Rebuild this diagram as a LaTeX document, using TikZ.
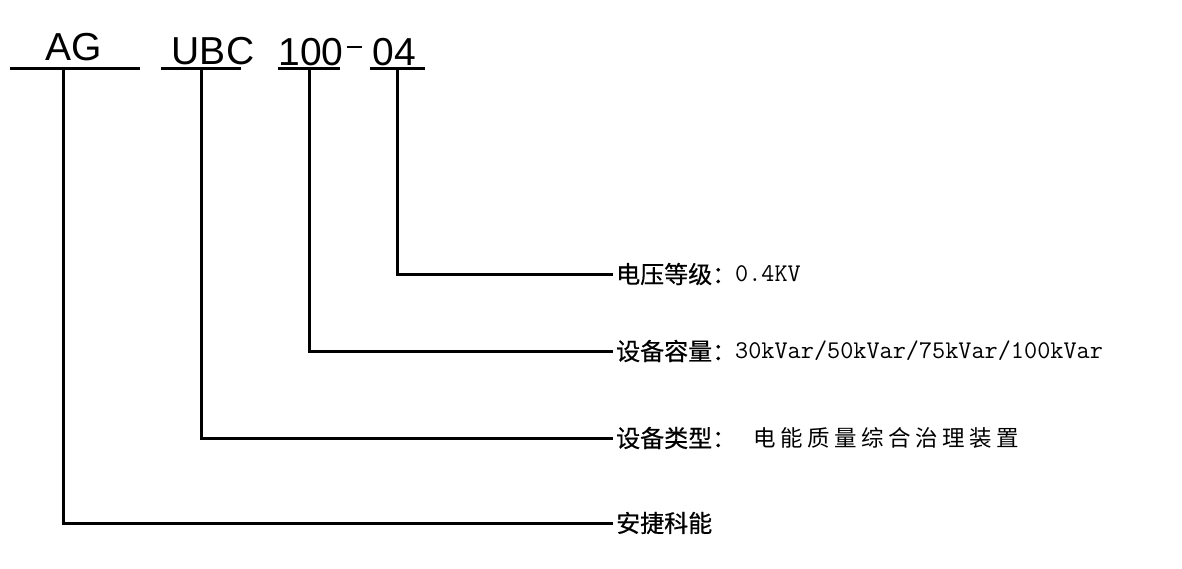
\documentclass[tikz,border=0pt]{standalone}
\usepackage{fontspec}
\setmainfont{Liberation Sans}
\newfontfamily\cjk{Noto Sans CJK SC}
\newfontfamily\cjkb[FakeBold=0.5]{Noto Sans CJK SC}
\begin{document}
\begin{tikzpicture}[x=1pt,y=-1pt,
  codetxt/.style={inner sep=0pt,anchor=base,font=\fontsize{39}{39}\selectfont},
  bar/.style={line width=3pt},
  conn/.style={line width=3pt},
  lab/.style={inner sep=0pt,anchor=west,font=\cjkb\fontsize{24}{24}\selectfont},
  val/.style={inner sep=0pt,anchor=west,font=\ttfamily\fontsize{25.5}{25.5}\selectfont},
  valc/.style={inner sep=0pt,anchor=west,font=\cjk\fontsize{22.5}{22.5}\selectfont}]
\fill[white] (0,0) rectangle (1182,568);
\useasboundingbox (0,0) rectangle (1182,568);
% code parts
\node[codetxt] (tAG) at (74,60) {AG};
\node[codetxt] (tUBC) at (213,64) {UBC};
\node[codetxt] (t100) at (311,65) {100};
\node[codetxt] (t04) at (394,65) {04};
\draw[line width=1.6pt] (347,47) -- (362,47);
% underlines
\draw[bar] (10,68) -- (140,68);
\draw[bar] (161,68) -- (241,68);
\draw[bar] (278,68) -- (340,68);
\draw[bar] (370,68) -- (425,68);
\coordinate (cAG) at (63,68);
\coordinate (cUBC) at (201,68);
\coordinate (c100) at (309,68);
\coordinate (c04) at (397,68);
% labels
\node[lab] (l1) at (616,274) {电压等级：};
\node[val] (v1) at (735,274) {0.4KV};
\node[lab] (l2) at (616,351) {设备容量：};
\node[val] (v2) at (735,351) {30kVar/50kVar/75kVar/100kVar};
\node[lab] (l3) at (616,438) {设备类型：};
\node[valc] (v3) at (753,438) {电\hspace{4.5pt}能\hspace{4.5pt}质\hspace{4.5pt}量\hspace{4.5pt}综\hspace{4.5pt}合\hspace{4.5pt}治\hspace{4.5pt}理\hspace{4.5pt}装\hspace{4.5pt}置};
\node[lab] (l4) at (616,523) {安捷科能};
% connectors
\draw[conn] (c04) |- ([xshift=-3pt]l1.west);
\draw[conn] (c100) |- ([xshift=-3pt]l2.west);
\draw[conn] (cUBC) |- ([xshift=-3pt]l3.west);
\draw[conn] (cAG) |- ([xshift=-3pt]l4.west);
\end{tikzpicture}
\end{document}
